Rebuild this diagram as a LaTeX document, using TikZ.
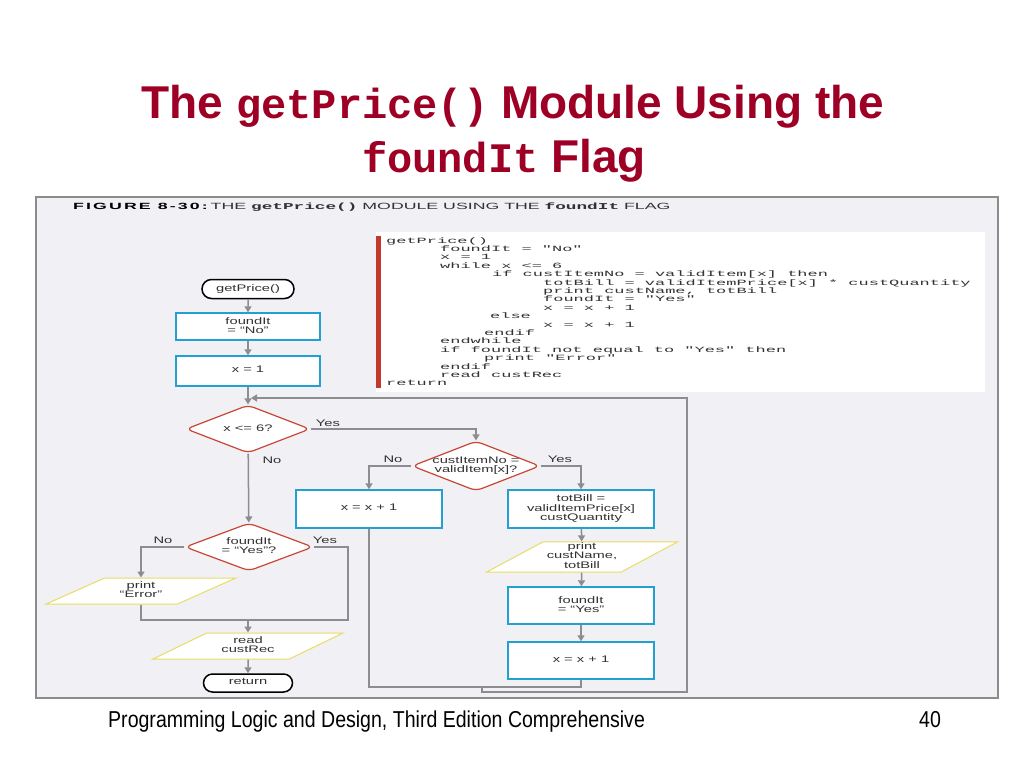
\documentclass[tikz,border=0pt]{standalone}
\usepackage{graphicx}
\usepackage{fontspec}
\setmainfont{Liberation Sans}
\newfontfamily\codefont{Liberation Mono}
\usetikzlibrary{shapes.geometric,shapes.misc,arrows.meta,positioning}
\definecolor{titlered}{RGB}{158,0,37}
\definecolor{framebg}{RGB}{240,240,245}
\definecolor{framegray}{RGB}{140,140,140}
\definecolor{procblue}{RGB}{35,160,210}
\definecolor{decred}{RGB}{200,70,50}
\definecolor{ioyellow}{RGB}{232,220,100}
\definecolor{linegray}{RGB}{140,140,145}
\definecolor{txtgray}{RGB}{50,50,50}
\definecolor{barred}{RGB}{192,57,43}
\newcommand{\wide}[1]{\scalebox{1.55}[1]{\fontsize{9.5}{8.8}\selectfont\begin{tabular}{@{}c@{}}#1\end{tabular}}}
\newcommand{\codeln}[1]{\scalebox{2.12}[1]{\codefont\fontsize{8}{8}\selectfont #1}}
\begin{document}
\begin{tikzpicture}[x=1pt, y=-1pt,
  every node/.style={text=txtgray, inner sep=1pt},
  proc/.style={draw=procblue, line width=1.4pt, fill=white, minimum width=144pt, minimum height=37pt},
  dec/.style={diamond, aspect=2.6, draw=decred, line width=1.2pt, fill=white, rounded corners=6pt, minimum width=126pt, minimum height=48pt},
  io/.style={trapezium, trapezium left angle=30, trapezium right angle=150, trapezium stretches=true, draw=ioyellow, line width=1pt, fill=white, minimum width=190pt, minimum height=26pt},
  term/.style={rounded rectangle, draw=black, line width=1.5pt, fill=white, minimum width=94pt, minimum height=19pt},
  flow/.style={draw=linegray, line width=1.5pt, -{Triangle[width=7pt,length=6pt]}},
  link/.style={draw=linegray, line width=1.3pt}]
\useasboundingbox[fill=white] (0,0) rectangle (1024,768);

\node[anchor=base, text=titlered] (title1) at (513,118)
  {\fontsize{46}{50}\selectfont\bfseries The {\codefont\fontsize{42}{48}\selectfont getPrice()} Module Using the};
\node[anchor=base, text=titlered] (title2) at (504,172)
  {\fontsize{46}{50}\selectfont\bfseries {\codefont\fontsize{42}{48}\selectfont foundIt} Flag};

\draw[fill=framebg, draw=framegray, line width=1.5pt] (36,197) rectangle (998,698);
\node[anchor=base west, text=black] (fighead) at (72,209)
  {\scalebox{1.97}[1]{\fontsize{9}{10}\selectfont{\bfseries\addfontfeatures{LetterSpace=12}FIGURE 8-30:}\,{\color{txtgray}THE {\codefont\bfseries getPrice()} MODULE USING THE {\codefont\bfseries foundIt} FLAG}}};

\fill[white] (376,232) rectangle (985,392);
\fill[barred] (376,236) rectangle (381,388);
\foreach \i/\x/\txt in {0/386/{getPrice()}, 1/440/{foundIt = "No"}, 2/440/{x = 1}, 3/440/{while x <= 6},
    4/492/{if custItemNo = validItem[x] then}, 5/543/{totBill = validItemPrice[x] * custQuantity},
    6/543/{print custName, totBill}, 7/543/{foundIt = "Yes"}, 8/543/{x = x + 1}, 9/490/{else},
    10/543/{x = x + 1}, 11/484/{endif}, 12/440/{endwhile}, 13/440/{if foundIt not equal to "Yes" then},
    14/484/{print "Error"}, 15/440/{endif}, 16/440/{read custRec}, 17/386/{return}}
{
  \node[anchor=base west, inner sep=0] (code\i) at (\x, 243 + 8.4*\i) {\codeln{\txt}};
}

\node[term] (start) at (248,289) {\wide{getPrice()}};
\node[proc, minimum height=27pt] (setno) at (248,326.5) {\wide{foundIt\\= “No”}};
\node[proc, minimum height=30pt] (setx) at (248,371) {\wide{x = 1}};
\node[dec, minimum width=124pt] (loop) at (248,429) {\wide{x <= 6?}};
\node[dec, inner sep=-3pt, minimum width=128pt, minimum height=50pt] (match) at (476,466) {\wide{custItemNo =\\validItem[x]?}};
\node[proc, minimum width=146pt, minimum height=38pt] (incno) at (369,509) {\wide{x = x + 1}};
\node[proc, minimum width=146pt, minimum height=38pt] (bill) at (581,509) {\wide{totBill =\\validItemPrice[x]\\* custQuantity}};
\node[io, minimum width=191pt, minimum height=27pt] (prt) at (582,557) {\wide{print\\custName,\\totBill}};
\node[proc, minimum width=146pt] (setyes) at (581,605.5) {\wide{foundIt\\= “Yes”}};
\node[proc, minimum width=146pt] (incyes) at (581,660.5) {\wide{x = x + 1}};
\node[dec, minimum width=128pt] (chk) at (249,547) {\wide{foundIt\\= “Yes”?}};
\node[io] (err) at (141,591) {\wide{print\\“Error”}};
\node[io] (rd) at (248,646) {\wide{read\\custRec}};
\node[term, minimum width=91pt, minimum height=18pt] (ret) at (248,683) {\wide{return}};

\coordinate (j1) at (581,687);
\coordinate (j2) at (482,687);
\coordinate (back) at (687,692);
\coordinate (rtop) at (687,398);
\coordinate (entry) at (251,398);
\coordinate (yr) at (348,620);
\coordinate (merge) at (248,620);

\draw[flow] (start) -- (setno);
\draw[flow] (setno) -- (setx);
\draw[flow] (setx) -- (loop);
\draw[flow] (loop) -- (chk);
\draw[flow] (loop.east) -| (match.north);
\draw[flow] (match.west) -| (incno.north);
\draw[flow] (match.east) -| (bill.north);
\draw[flow] (bill) -- (prt);
\draw[flow] (prt) -- (setyes);
\draw[flow] (setyes) -- (incyes);
\draw[link] (incyes.south) -- (j1) -- (incno.south |- j1) -- (incno.south);
\draw[flow] (j2) |- (back) -- (rtop) -- (entry);
\draw[flow] (chk.west) -| (err.north);
\draw[link] (chk.east) -| (yr) -- (err.south |- yr) -- (err.south);
\draw[flow] (merge) -- (rd);
\draw[flow] (rd) -- (ret);

\node (lyes) at (328,425) {\wide{Yes}};
\node (lno) at (272,462) {\wide{No}};
\node (mno) at (393,461) {\wide{No}};
\node (myes) at (560,461) {\wide{Yes}};
\node (cno) at (163,542) {\wide{No}};
\node (cyes) at (325,542) {\wide{Yes}};

\node[anchor=base west, text=black] (foot) at (107,727)
  {\scalebox{0.85}[1]{\fontsize{23}{26}\selectfont Programming Logic and Design, Third Edition Comprehensive}};
\node[anchor=base west, text=black] (pagenum) at (918,727)
  {\scalebox{0.85}[1]{\fontsize{23}{26}\selectfont 40}};
\end{tikzpicture}
\end{document}
